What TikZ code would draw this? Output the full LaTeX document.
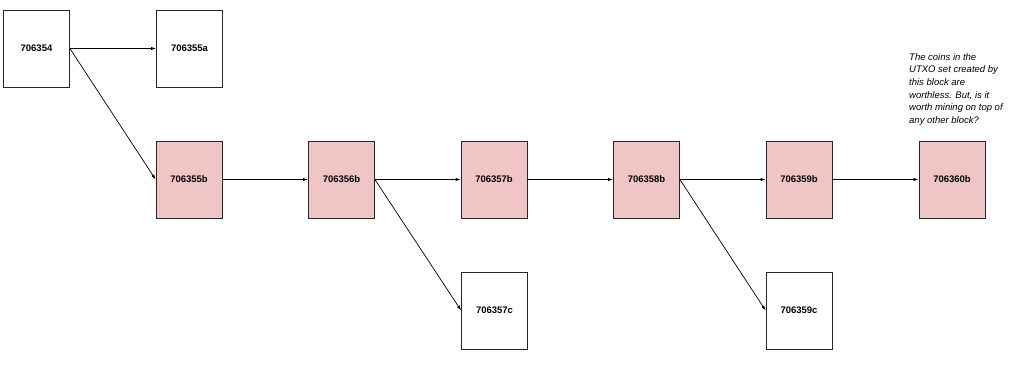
\documentclass[tikz,border=0pt]{standalone}
\usepackage{fontspec}
\setmainfont{Liberation Sans}
\usetikzlibrary{arrows.meta}
\definecolor{stale}{RGB}{240,197,197}
\tikzset{
  blk/.style={draw=black!85,line width=0.8pt,minimum width=66pt,minimum height=77pt,inner sep=0pt,font=\fontsize{9.5}{11}\selectfont\bfseries},
  orphan/.style={blk,fill=stale},
  link/.style={-{Latex[length=5pt,width=3.2pt]},line width=0.7pt}
}
\begin{document}
\begin{tikzpicture}[x=1pt,y=-1pt]
\useasboundingbox (0,0) rectangle (1024,364);
\node[blk] (b354) at (36.5,48.5) {706354};
\node[blk] (b355a) at (189.5,48.5) {706355a};
\node[orphan] (b355b) at (189,179.5) {706355b};
\node[orphan] (b356b) at (341.5,179.5) {706356b};
\node[orphan] (b357b) at (494,179.5) {706357b};
\node[orphan] (b358b) at (646.5,179.5) {706358b};
\node[orphan] (b359b) at (799,179.5) {706359b};
\node[orphan] (b360b) at (952,179.5) {706360b};
\node[blk] (b357c) at (494.5,310.5) {706357c};
\node[blk] (b359c) at (799,310.5) {706359c};
\node[anchor=north west,align=left,inner sep=0pt,font=\fontsize{9.5}{12.7}\selectfont\itshape] (note) at (909,53)
  {The coins in the\\UTXO set created by\\this block are\\worthless. But, is it\\worth mining on top of\\any other block?};
\draw[link] (b354.east) -- (b355a.west);
\draw[link] (b354.east) -- (b355b.west);
\draw[link] (b355b) -- (b356b);
\draw[link] (b356b) -- (b357b);
\draw[link] (b356b.east) -- (b357c.west);
\draw[link] (b357b) -- (b358b);
\draw[link] (b358b) -- (b359b);
\draw[link] (b358b.east) -- (b359c.west);
\draw[link] (b359b) -- (b360b);
\end{tikzpicture}
\end{document}
